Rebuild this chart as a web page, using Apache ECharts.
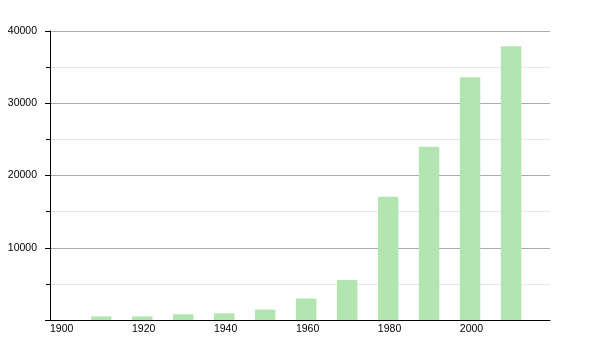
<!DOCTYPE html>
<html>
<head>
<meta charset="utf-8">
<script src="https://cdn.jsdelivr.net/npm/echarts@6/dist/echarts.min.js"></script>
<style>html,body{margin:0;padding:0;background:#fff}#c{width:600px;height:350px}</style>
</head>
<body>
<div id="c"></div>
<script>
var years = [1910, 1920, 1930, 1940, 1950, 1960, 1970, 1980, 1990, 2000, 2010];
var population = [500, 500, 790, 930, 1440, 2970, 5540, 17050, 23990, 33600, 37900];
var barSpanYears = 5;

var chart = echarts.init(document.getElementById('c'), null, {renderer: 'canvas'});
chart.setOption({
  animation: false,
  backgroundColor: '#fff',
  textStyle: {fontFamily: 'Liberation Sans, Arial, sans-serif'},
  grid: {left: 50, right: 50, top: 31, bottom: 30, containLabel: false},
  xAxis: {
    type: 'value', min: 1900, max: 2022, interval: 20,
    axisLine: {show: true, lineStyle: {color: '#000', width: 1}},
    axisTick: {show: false},
    splitLine: {show: false},
    axisLabel: {
      align: 'left', margin: 4, fontSize: 10.5, color: '#000',
      fontFamily: 'Liberation Sans, Arial, sans-serif',
      formatter: function (v) { return v <= 2000 ? String(v) : ''; }
    }
  },
  yAxis: {
    type: 'value', min: 0, max: 40000, interval: 10000,
    axisLine: {show: true, lineStyle: {color: '#000', width: 1}},
    axisTick: {show: true, length: 5, lineStyle: {color: '#000'}},
    minorTick: {show: true, splitNumber: 2, length: 4, lineStyle: {color: '#000'}},
    splitLine: {show: true, lineStyle: {color: '#aaaaaa', width: 1}},
    minorSplitLine: {show: true, lineStyle: {color: '#e6e6e6', width: 1}},
    axisLabel: {
      margin: 13, fontSize: 10.5, color: '#000', showMinLabel: false,
      fontFamily: 'Liberation Sans, Arial, sans-serif',
      formatter: function (v) { return v === 0 ? '' : String(v); }
    }
  },
  series: [{
    type: 'custom',
    data: years.map(function (y, i) { return [y, population[i]]; }),
    encode: {x: 0, y: 1},
    renderItem: function (params, api) {
      var x = api.value(0), v = api.value(1);
      var p0 = api.coord([x, v]);
      var p1 = api.coord([x + barSpanYears, 0]);
      return {
        type: 'rect',
        shape: {x: p0[0], y: p0[1], width: p1[0] - p0[0], height: p1[1] - p0[1]},
        style: {fill: '#b3e5b0'}
      };
    }
  }]
});
</script>
</body>
</html>
